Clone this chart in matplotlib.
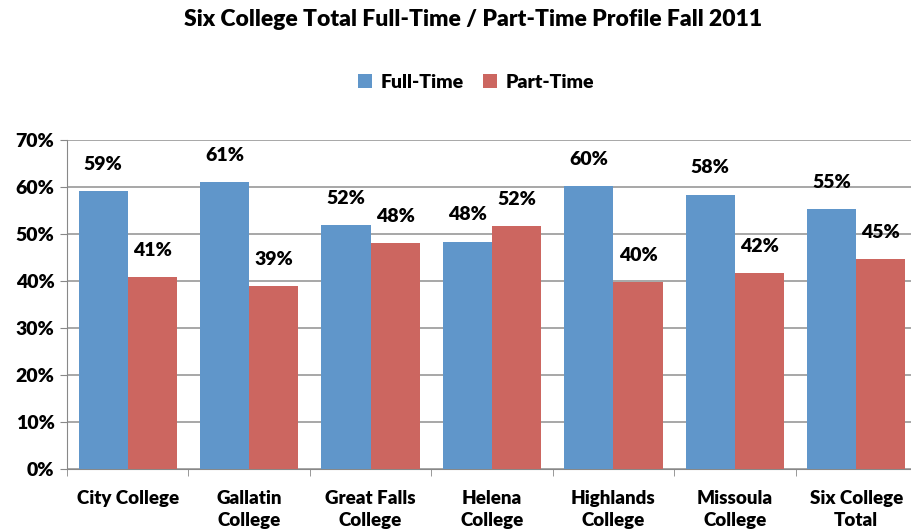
import numpy as np
import matplotlib.pyplot as plt

# data
colleges = ['City College', 'Gallatin\nCollege', 'Great Falls\nCollege', 'Helena\nCollege',
            'Highlands\nCollege', 'Missoula\nCollege', 'Six College\nTotal']
full_time = [59.1, 61.1, 51.9, 48.4, 60.2, 58.4, 55.4]
part_time = [40.9, 38.9, 48.1, 51.6, 39.8, 41.6, 44.6]
ft_labels = ['59%', '61%', '52%', '48%', '60%', '58%', '55%']
pt_labels = ['41%', '39%', '48%', '52%', '40%', '42%', '45%']

plt.rcParams['font.family'] = ['Lato', 'DejaVu Sans']
WT = 'heavy'

fig = plt.figure(figsize=(9.12, 5.31), dpi=100)
ax = fig.add_axes([67/912, 62/531, 850/912, 329/531])

x = np.arange(len(colleges))
w = 0.405
b1 = ax.bar(x - w/2, full_time, w, color='#6096CA', label='Full-Time', zorder=3)
b2 = ax.bar(x + w/2, part_time, w, color='#CC6660', label='Part-Time', zorder=3)

for bars, labs in ((b1, ft_labels), (b2, pt_labels)):
    for r, t in zip(bars, labs):
        ax.annotate(t, (r.get_x() + r.get_width()/2, r.get_height()), xytext=(0, 13),
                    textcoords='offset points', ha='center', va='bottom',
                    fontsize=14, fontweight=WT)

ax.set_xlim(-0.5, len(colleges) - 0.5)
ax.set_ylim(0, 70)
ax.set_yticks(np.arange(0, 71, 10))
ax.set_yticklabels([f'{v}%' for v in range(0, 71, 10)], fontsize=14, fontweight=WT)
ax.set_xticks(x)
ax.set_xticklabels(colleges, fontsize=13.5, fontweight=WT, linespacing=1.38)
ax.set_xticks(np.arange(-0.5, len(colleges), 1), minor=True)
ax.tick_params(axis='x', which='major', length=0, pad=15)
ax.tick_params(axis='x', which='minor', length=5, color='#888888', direction='out')
ax.tick_params(axis='y', length=5, color='#888888', direction='out', pad=4)
ax.yaxis.grid(True, color='#A0A0A0', linewidth=1.3, zorder=0)
for s in ('top', 'right'):
    ax.spines[s].set_visible(False)
for s in ('left', 'bottom'):
    ax.spines[s].set_color('#888888')

fig.text(473/912, 1 - 20/531, 'Six College Total Full-Time / Part-Time Profile Fall 2011',
         ha='center', va='center', fontsize=16.5, fontweight=WT)
fig.legend(loc='center', bbox_to_anchor=(476/912, 1 - 82/531), ncol=2, frameon=False,
           prop={'size': 14, 'weight': WT}, handlelength=0.75, handleheight=0.75,
           columnspacing=0.95, handletextpad=0.45)

fig.savefig('out.png', dpi=100)
